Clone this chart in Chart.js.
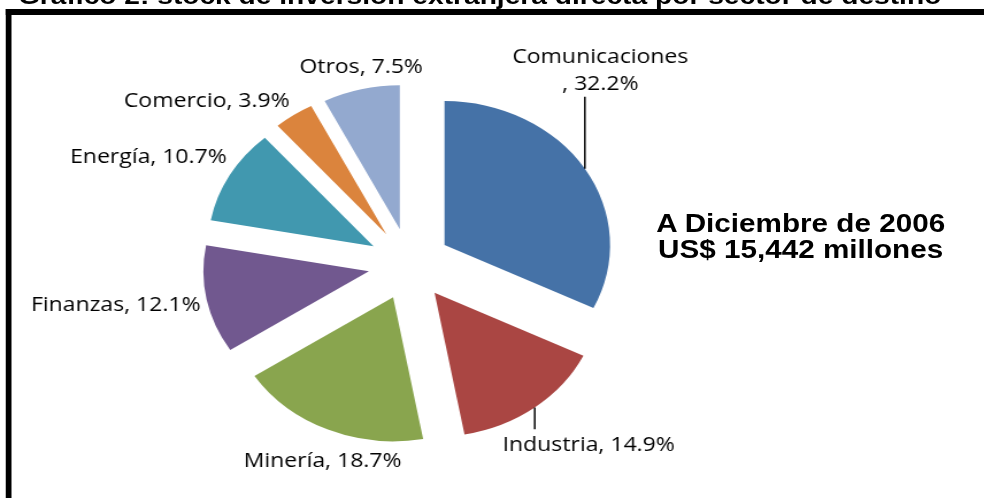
<!DOCTYPE html>
<html lang="es">
<head>
<meta charset="utf-8">
<title>Stock de inversión extranjera directa por sector de destino</title>
<script src="https://cdn.jsdelivr.net/npm/chart.js@4.4.1/dist/chart.umd.min.js"></script>
<style>
  html, body { margin: 0; padding: 0; background: #fff; overflow: hidden; width: 984px; height: 498px; }
  /* la imagen original viene estirada en horizontal: se dibuja a 856px y se estira */
  #page { position: absolute; left: 0; top: 0; width: 856px; height: 498px; transform: scaleX(1.1495); transform-origin: 0 0; }
  #titulo { position: absolute; left: 15.6px; top: -16px; margin: 0; font: bold 24.5px "Liberation Sans", Arial, sans-serif; line-height: 24.5px; white-space: nowrap; color: #000; }
  #marco { position: absolute; left: 5.2px; top: 9px; width: 1000px; height: 600px; border-top: 6px solid #000; border-left: 5.2px solid #000; }
  #nota { position: absolute; left: 536.5px; top: 209.5px; width: 320px; text-align: center; font: bold 25.8px "Liberation Sans", Arial, sans-serif; line-height: 26.6px; white-space: nowrap; color: #000; }
  #grafico { position: absolute; left: 0; top: 0; width: 856px; height: 498px; }
</style>
</head>
<body>
<div id="page">
  <div id="marco"></div>
  <h1 id="titulo">Gráfico 2: stock de inversión extranjera directa por sector de destino</h1>
  <div id="grafico"><canvas id="pie"></canvas></div>
  <div id="nota">A Diciembre de 2006<br>US$ 15,442 millones</div>
</div>
<script>
const sectores = ['Comunicaciones', 'Industria', 'Minería', 'Finanzas', 'Energía', 'Comercio', 'Otros'];
const participacion = [32.2, 14.9, 18.7, 12.1, 10.7, 3.9, 7.5];
const colores = ['#4572A7', '#AA4643', '#89A54E', '#71588F', '#4198AF', '#DB843D', '#93A9CF'];

// posición de cada etiqueta respecto al punto medio del borde exterior de su porción
const posEtiquetas = [[13.5, -105.4], [47, 43.4], [-4.6, 37.7], [-79, 11.4], [-70.7, -11.6], [-75.6, -8.3], [0, -15.9]];
// largo de la línea guía (vertical) o null si no tiene
const guias = [-72, 21.7, null, null, null, null, null];

const RADIO = 144;
const EXPLOSION = 36;
const ALTO_LINEA = 26.7;
const FUENTE = '20px "Open Sans"';

function textoEtiqueta(i) {
    const pct = participacion[i].toFixed(1) + '%';
    // en el original "Comunicaciones" se parte en dos líneas
    if (i === 0) return [sectores[i], ', ' + pct];
    return [sectores[i] + ', ' + pct];
}

const porcionesSeparadas = {
    id: 'porcionesSeparadas',
    beforeDatasetsDraw(chart) {
        const ctx = chart.ctx;
        chart.getDatasetMeta(0).data.forEach(arc => {
            const mid = (arc.startAngle + arc.endAngle) / 2;
            ctx.save();
            ctx.translate(Math.cos(mid) * EXPLOSION, Math.sin(mid) * EXPLOSION);
            arc.draw(ctx);
            ctx.restore();
        });
        return false;
    },
    afterDraw(chart) {
        const ctx = chart.ctx;
        const arcs = chart.getDatasetMeta(0).data;
        ctx.save();
        ctx.font = FUENTE;
        ctx.fillStyle = '#000';
        ctx.strokeStyle = '#000';
        ctx.lineWidth = 1.5;
        ctx.textAlign = 'center';
        ctx.textBaseline = 'alphabetic';
        arcs.forEach((arc, i) => {
            const mid = (arc.startAngle + arc.endAngle) / 2;
            const r = arc.outerRadius + EXPLOSION;
            const px = arc.x + Math.cos(mid) * r;
            const py = arc.y + Math.sin(mid) * r;
            if (guias[i] !== null) {
                ctx.beginPath();
                ctx.moveTo(px, py);
                ctx.lineTo(px, py + guias[i]);
                ctx.stroke();
            }
            const [dx, dy] = posEtiquetas[i];
            textoEtiqueta(i).forEach((t, k) => {
                ctx.fillText(t, px + dx, py + dy + k * ALTO_LINEA);
            });
        });
        ctx.restore();
    }
};

document.fonts.load(FUENTE).then(() => {
    new Chart(document.getElementById('pie'), {
        type: 'pie',
        data: {
            labels: sectores,
            datasets: [{
                data: participacion,
                backgroundColor: colores,
                borderWidth: 0,
                radius: RADIO
            }]
        },
        options: {
            responsive: true,
            maintainAspectRatio: false,
            animation: false,
            events: [],
            layout: { padding: { left: 0, right: 143.6, top: 30.4, bottom: 0 } },
            plugins: {
                legend: { display: false },
                title: { display: false },
                tooltip: { enabled: false }
            }
        },
        plugins: [porcionesSeparadas]
    });
});
</script>
</body>
</html>
